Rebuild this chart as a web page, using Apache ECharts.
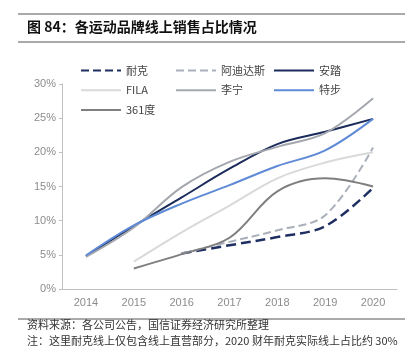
<!DOCTYPE html>
<html><head><meta charset="utf-8">
<script src="https://cdn.jsdelivr.net/npm/echarts@6/dist/echarts.min.js"></script>
<style>html,body{margin:0;padding:0;background:#fff}#c{width:416px;height:357px}</style>
</head><body><div id="c"></div>
<script>
var years = ['2014','2015','2016','2017','2018','2019','2020'];
var nike   = [null, null, 5.2, 6.4, 7.6, 9.2, 14.8];
var adidas = [null, null, 5.2, 6.9, 8.6, 10.8, 20.7];
var anta   = [4.8, 9.2, 13.4, 17.6, 21.2, 23.0, 24.9];
var fila   = [null, 4.0, 8.3, 12.2, 16.2, 18.5, 20.0];
var lining = [4.7, 9.0, 14.9, 18.6, 20.8, 22.8, 27.9];
var xtep   = [4.9, 9.3, 12.5, 15.2, 18.0, 20.3, 24.9];
var d361   = [null, 3.0, 5.1, 7.5, 14.3, 16.2, 15.0];
var yTicks = [0, 5, 10, 15, 20, 25, 30];

var chart = echarts.init(document.getElementById('c'));
function mk(name, data, color, width, type) {
  return {name: name, type: 'line', data: data, smooth: 0.35, symbol: 'none',
    connectNulls: false,
    lineStyle: {color: color, width: width, type: type || 'solid'},
    itemStyle: {color: color}};
}
var font = 'Liberation Sans, Arial, Noto Sans CJK SC, sans-serif';
var legendText = {color: '#444', fontSize: 11, fontFamily: 'Noto Sans CJK SC, sans-serif'};
function lg(left, names) {
  return {orient: 'vertical', left: left, top: 60, itemWidth: 40, itemHeight: 14, itemGap: 8.5,
    data: names, textStyle: legendText, itemStyle: {opacity: 0}};
}
chart.setOption({
  animation: false,
  grid: {left: 62, right: 19, top: 84, bottom: 68},
  legend: [lg(75, ['耐克', 'FILA', '361度']), lg(170, ['阿迪达斯', '李宁']), lg(268, ['安踏', '特步'])],
  xAxis: {type: 'category', data: years, boundaryGap: true,
    axisLine: {lineStyle: {color: '#bfbfbf', width: 1}},
    axisTick: {inside: true, length: 4, lineStyle: {color: '#bfbfbf'}},
    axisLabel: {color: '#8c8c8c', fontSize: 11, margin: 8, fontFamily: font}},
  yAxis: {type: 'value', min: yTicks[0], max: yTicks[yTicks.length - 1], interval: 5,
    axisLine: {show: true, lineStyle: {color: '#bfbfbf', width: 1}},
    axisTick: {show: true, length: 3, lineStyle: {color: '#bfbfbf'}},
    splitLine: {show: false},
    axisLabel: {color: '#8c8c8c', fontSize: 11, margin: 6, formatter: '{value}%', fontFamily: font}},
  graphic: [
    {type: 'line', shape: {x1: 18, y1: 14, x2: 405, y2: 14}, style: {stroke: '#555', lineWidth: 1}},
    {type: 'line', shape: {x1: 18, y1: 42, x2: 405, y2: 42}, style: {stroke: '#555', lineWidth: 1}},
    {type: 'text', left: 27, top: 20, style: {text: '图 84：各运动品牌线上销售占比情况', fill: '#111',
      font: 'bold 14px "Noto Sans CJK SC", sans-serif'}},
    {type: 'line', shape: {x1: 18, y1: 319, x2: 405, y2: 319}, style: {stroke: '#555', lineWidth: 1}},
    {type: 'text', left: 27, top: 319, style: {text: '资料来源：各公司公告，国信证券经济研究所整理', fill: '#333',
      font: '11px "Noto Sans CJK SC", sans-serif'}},
    {type: 'text', left: 27, top: 335, style: {text: '注：这里耐克线上仅包含线上直营部分，2020 财年耐克实际线上占比约 30%', fill: '#333',
      font: '11px "Noto Sans CJK SC", sans-serif'}}
  ],
  series: [
    mk('耐克', nike, '#1f2f62', 2.5, 'dashed'),
    mk('阿迪达斯', adidas, '#aab0ba', 2, 'dashed'),
    mk('安踏', anta, '#1b2c5c', 2),
    mk('FILA', fila, '#d9d9d9', 2),
    mk('李宁', lining, '#a4a8ae', 2),
    mk('特步', xtep, '#5f8ad6', 2),
    mk('361度', d361, '#7f7f7f', 2)
  ]
});
</script></body></html>
